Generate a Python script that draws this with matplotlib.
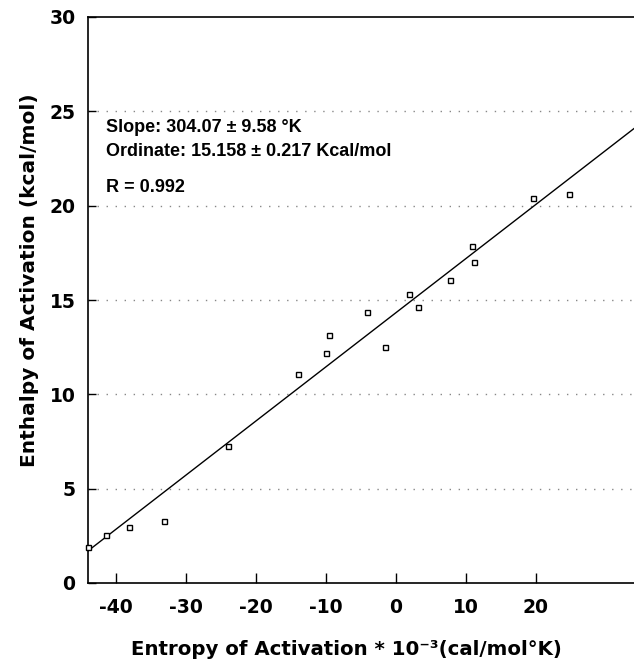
import numpy as np
import matplotlib
matplotlib.use("Agg")
import matplotlib.pyplot as plt

plt.rcParams["axes.unicode_minus"] = False

# entropy (x 10^-3 cal/mol K) vs enthalpy (kcal/mol)
entropy = [-44.0, -41.4, -38.1, -33.1, -24.0, -14.0, -10.0, -9.6, -4.1, -1.6,
           1.9, 3.2, 7.7, 10.9, 11.1, 19.5, 24.7]
enthalpy = [1.91, 2.54, 2.98, 3.30, 7.26, 11.1, 12.17, 13.16, 14.38, 12.5,
            15.3, 14.64, 16.04, 17.84, 17.0, 20.4, 20.6]

# fitted line as drawn on the chart
fit_slope = 0.287
fit_intercept = 14.33

x_ticks = [-40, -30, -20, -10, 0, 10, 20]
y_ticks = [0, 5, 10, 15, 20, 25, 30]
grid_levels = [5, 10, 15, 20, 25]

notes = ["Slope: 304.07 \u00b1 9.58 \u00b0K",
         "Ordinate: 15.158 \u00b1 0.217 Kcal/mol",
         "R = 0.992"]
note_y = [24.15, 22.85, 20.95]

fig = plt.figure(figsize=(6.34, 6.6), dpi=100)
W, H = 546, 566
ax = fig.add_axes([88 / 634, 77 / 660, W / 634, H / 660])

xmin, xmax = -44.0, 34.0
ax.set_xlim(xmin, xmax)
ax.set_ylim(0, 30)

for g in grid_levels:
    ax.axhline(g, color="#888888", lw=1.0, ls=(0, (1, 5.5)), zorder=1)

xs = np.array([xmin, xmax])
ax.plot(xs, fit_intercept + fit_slope * xs, color="black", lw=1.0, zorder=2)
ax.plot(entropy, enthalpy, ls="none", marker="s", ms=3.6, mfc="white",
        mec="black", mew=1.0, zorder=3, clip_on=False)

ax.spines["right"].set_visible(False)
for s in ["left", "bottom", "top"]:
    ax.spines[s].set_linewidth(1.2)

ax.set_xticks(x_ticks)
ax.set_yticks(y_ticks)
ax.tick_params(axis="x", direction="in", length=7, width=1, pad=11)
ax.tick_params(axis="y", direction="in", length=6, width=1, pad=9)
for lab in ax.get_xticklabels() + ax.get_yticklabels():
    lab.set_fontfamily("DejaVu Sans")
    lab.set_fontweight("bold")
    lab.set_fontsize(13.5)

ax.set_xlabel("Entropy of Activation * 10\u207b\u00b3(cal/mol\u00b0K)",
              family="DejaVu Sans", fontweight="bold", fontsize=14.2,
              va="baseline")
ax.xaxis.set_label_coords((346 - 88) / W, (583 - 655) / H)
ax.set_ylabel("Enthalpy of Activation (kcal/mol)",
              family="DejaVu Sans", fontweight="bold", fontsize=14.5,
              va="center")
ax.yaxis.set_label_coords((30 - 88) / W, (583 - 280) / H)

for t, yy in zip(notes, note_y):
    ax.text(-41.5, yy, t, fontfamily="Liberation Sans", fontweight="bold",
            fontsize=13, va="center", ha="left")

fig.savefig("out.png", dpi=100)
